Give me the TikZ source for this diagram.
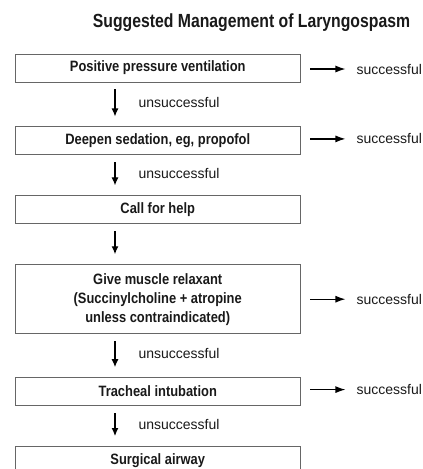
\documentclass[tikz,border=0pt]{standalone}
\usepackage{fontspec}
\setmainfont{Liberation Sans}
\newfontfamily\narrowfont{Liberation Sans}[FakeStretch=0.86]
\newfontfamily\titlefont{Liberation Sans}[FakeStretch=0.83]
\usetikzlibrary{positioning}
\usetikzlibrary{arrows.meta}

\begin{document}
\begin{tikzpicture}[x=1pt, y=-1pt,
	stepbox/.style={draw=black!60, line width=0.9pt, minimum width=284.5pt, minimum height=28pt, align=center, font=\narrowfont\bfseries\fontsize{15}{19}\selectfont, text=black!90},
	oktext/.style={font=\fontsize{14}{17}\selectfont, text=black!90, inner sep=0pt},
	nolabel/.style={font=\fontsize{14}{17}\selectfont, text=black!90, inner sep=0pt, anchor=west},
	down/.style={-{Latex[length=8pt,width=7pt]}, line width=1.2pt, shorten <=7pt, shorten >=10pt},
	side/.style={-{Latex[length=10pt,width=7pt]}, line width=1.2pt, shorten <=10pt, shorten >=11pt}]
\useasboundingbox (0,0) rectangle (423,469);
\node[font=\titlefont\bfseries\fontsize{19}{21}\selectfont, text=black!90] (title) at (251.5,23) {Suggested Management of Laryngospasm};
\node[stepbox] (ppv) at (157.75,68) {Positive pressure ventilation};
\node[stepbox, below=44pt of ppv] (sedation) {Deepen sedation, eg, propofol};
\node[stepbox, below=40pt of sedation] (help) {Call for help};
\node[stepbox, minimum height=69pt, below=40pt of help] (relax) {Give muscle relaxant\\(Succinylcholine + atropine\\unless contraindicated)};
\node[stepbox, below=43pt of relax] (intub) {Tracheal intubation};
\node[stepbox, below=40pt of intub] (surgical) {Surgical airway};
\coordinate (col) at (115,0);
\node[oktext, right=56pt of ppv, yshift=-1pt] (ok1) {successful};
\node[oktext, right=56pt of sedation, yshift=2pt] (ok2) {successful};
\node[oktext, right=56pt of relax] (ok3) {successful};
\node[oktext, right=56pt of intub, yshift=2pt] (ok4) {successful};
\draw[down] (ppv.south -| col) -- (sedation.north -| col) node[nolabel, midway, xshift=23pt, yshift=2pt] {unsuccessful};
\draw[down] (sedation.south -| col) -- (help.north -| col) node[nolabel, midway, xshift=23pt, yshift=2pt] {unsuccessful};
\draw[down] (help.south -| col) -- (relax.north -| col);
\draw[down] (relax.south -| col) -- (intub.north -| col) node[nolabel, midway, xshift=23pt, yshift=2pt] {unsuccessful};
\draw[down] (intub.south -| col) -- (surgical.north -| col) node[nolabel, midway, xshift=23pt, yshift=2pt] {unsuccessful};
\draw[side] (ppv.east |- ok1) -- (ok1.west);
\draw[side] (sedation.east |- ok2) -- (ok2.west);
\draw[side] (relax.east |- ok3) -- (ok3.west);
\draw[side] (intub.east |- ok4) -- (ok4.west);
\end{tikzpicture}
\end{document}
